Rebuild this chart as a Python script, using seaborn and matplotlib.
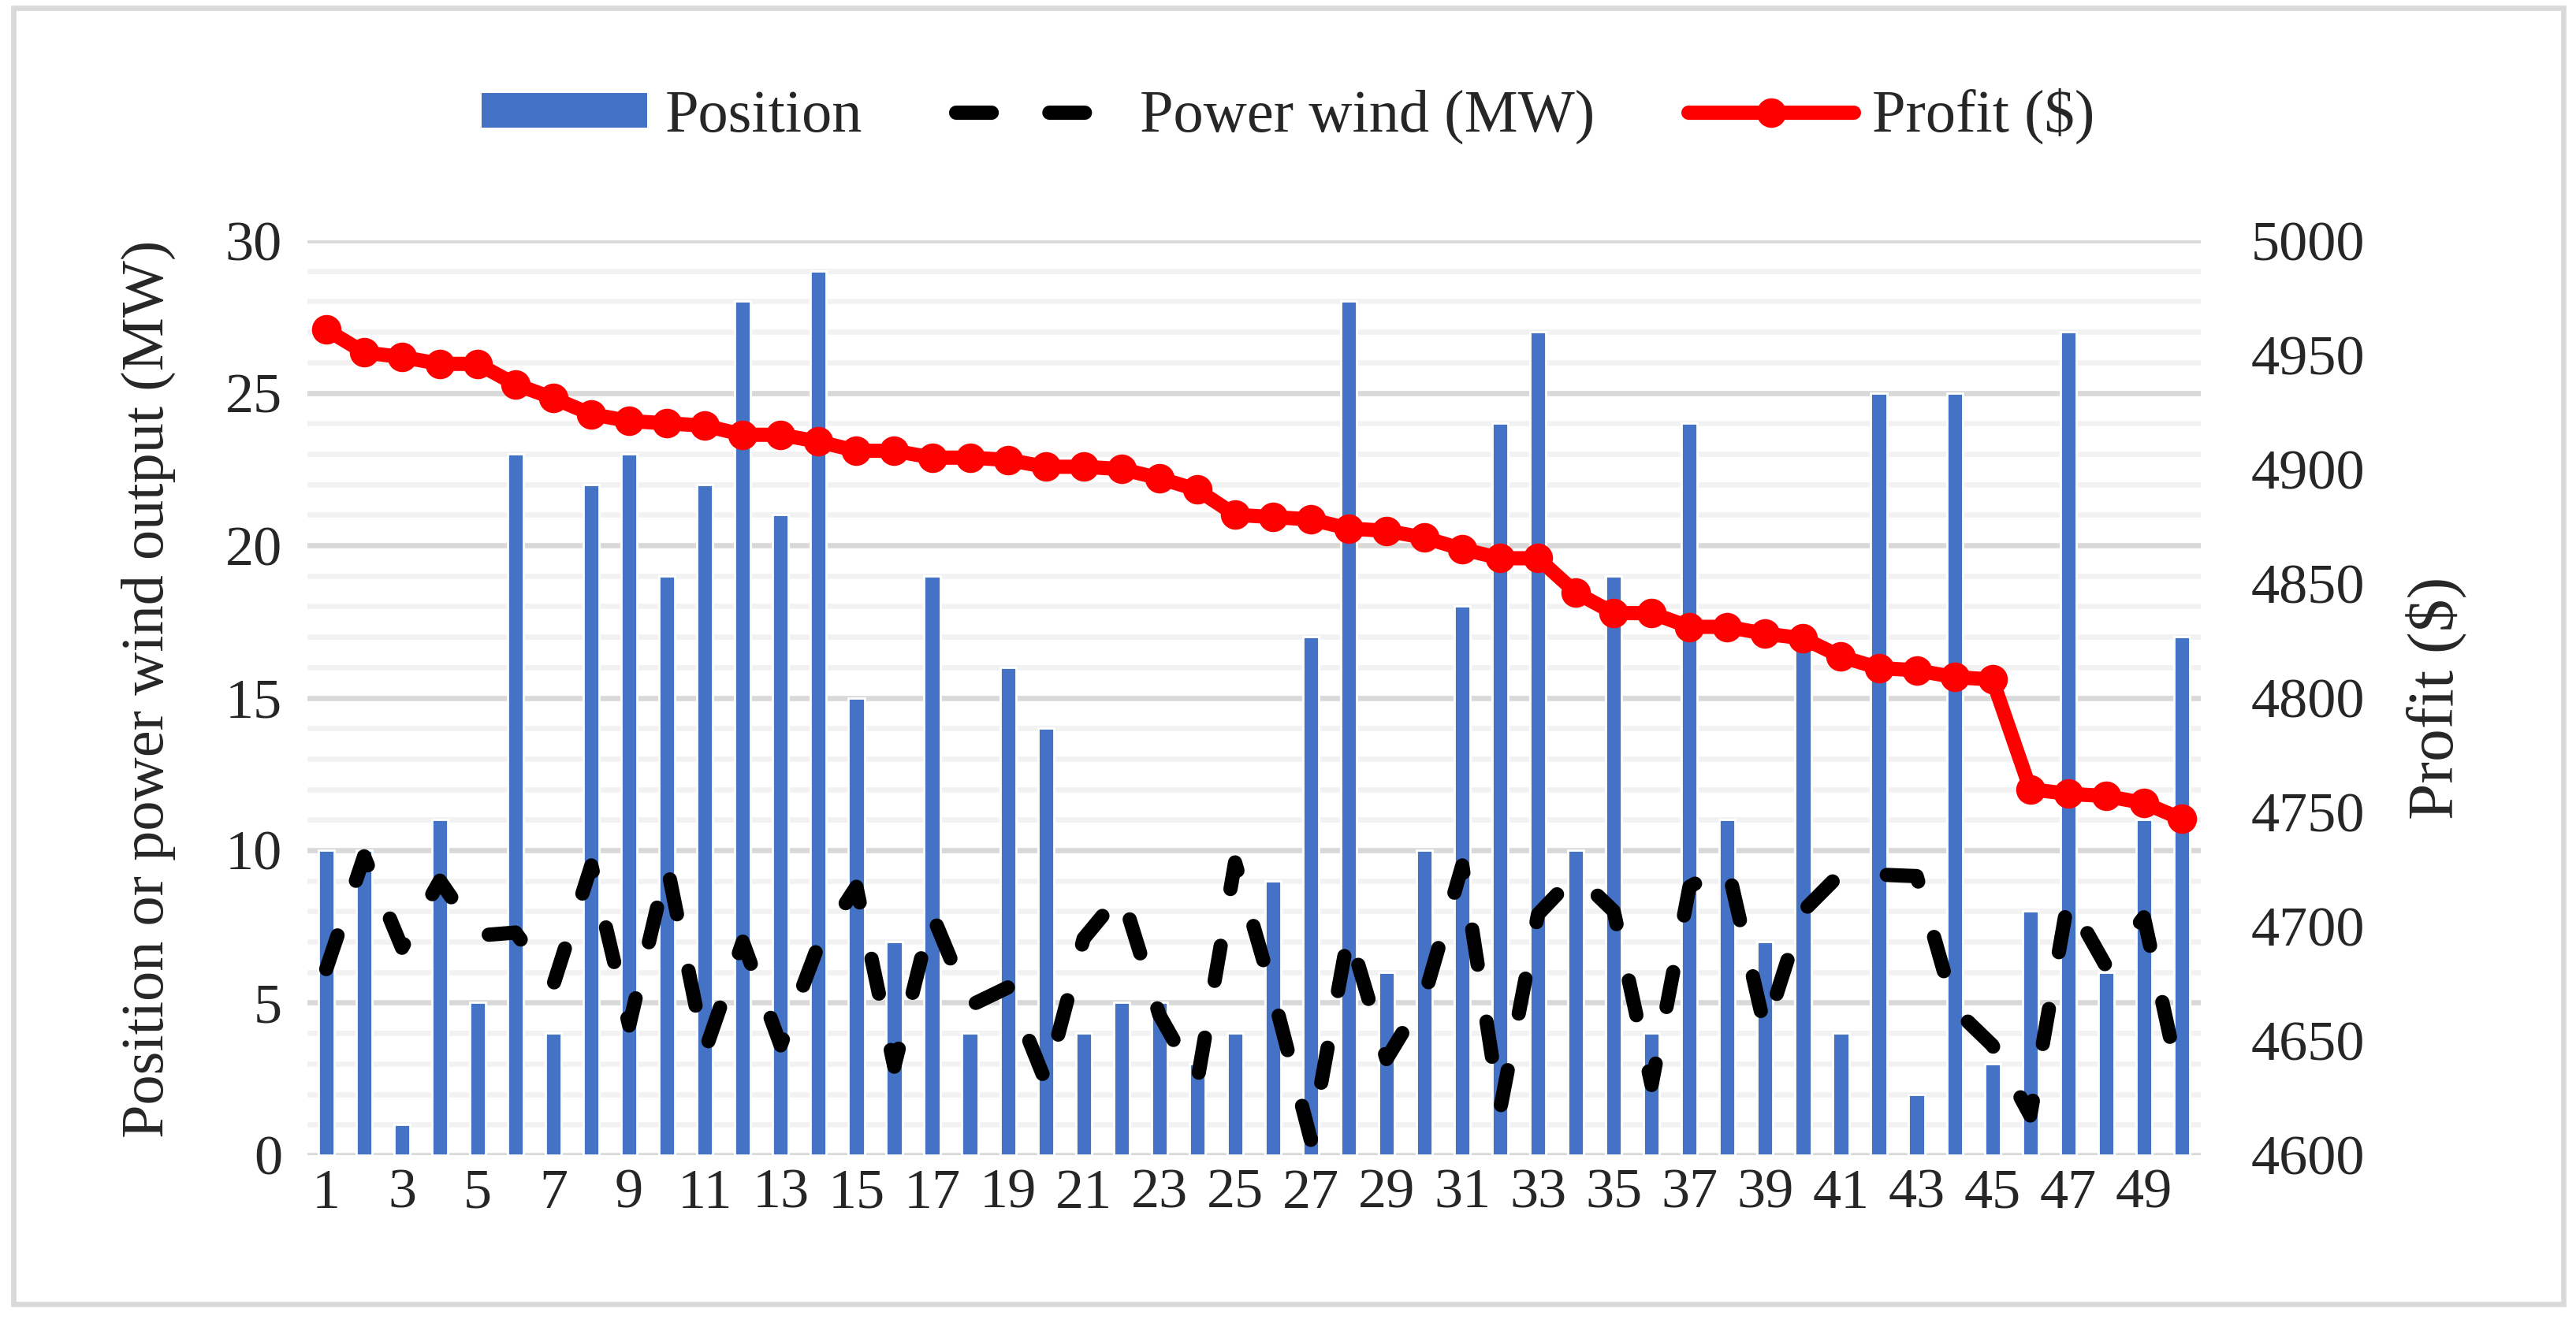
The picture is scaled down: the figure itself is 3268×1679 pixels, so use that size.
import matplotlib
matplotlib.use("Agg")
import matplotlib.pyplot as plt
import pandas as pd
import seaborn as sns
from matplotlib.lines import Line2D
from matplotlib.patches import Patch, Rectangle
from matplotlib.ticker import MultipleLocator

scenarios = list(range(1, 51))

position = [10, 10, 1, 11, 5, 23, 4, 22, 23, 19,
            22, 28, 21, 29, 15, 7, 19, 4, 16, 14,
            4, 5, 5, 3, 4, 9, 17, 28, 6, 10,
            18, 24, 27, 10, 19, 4, 24, 11, 7, 17,
            4, 25, 2, 25, 3, 8, 27, 6, 11, 17]

power_wind = [6.1, 9.8, 6.8, 9.0, 7.2, 7.3, 5.6, 9.5, 4.25, 9.5,
              3.4, 7.0, 3.6, 6.9, 8.8, 2.9, 7.9, 4.9, 5.5, 2.4,
              7.1, 8.6, 4.6, 2.4, 9.6, 5.3, 0.5, 7.3, 3.15, 5.2,
              9.5, 1.5, 7.9, 9.2, 8.0, 2.3, 8.8, 9.5, 4.1, 8.0,
              9.25, 9.2, 9.15, 4.8, 3.6, 1.3, 8.4, 6.2, 7.8, 2.1]

profit = [4961, 4951, 4949, 4946, 4946, 4937, 4931, 4924, 4921, 4920,
          4919, 4915, 4915, 4912, 4908, 4908, 4905, 4905, 4904, 4901,
          4901, 4900, 4896, 4891, 4880, 4879, 4878, 4874, 4873, 4870,
          4865, 4861, 4861, 4846, 4837, 4837, 4831, 4831, 4828, 4826,
          4818, 4813, 4812, 4809, 4808, 4760, 4758, 4757, 4754, 4747]

df = pd.DataFrame({
    "scenario": [str(s) for s in scenarios],
    "idx": range(len(scenarios)),
    "position": position,
    "wind": power_wind,
    "profit": profit,
})

sns.set_style("white")
plt.rcParams["font.family"] = ["Liberation Serif", "DejaVu Serif"]

BLUE = "#4472C4"
RED = "#FF0000"
wind_dash = (0, (2.5, 4.05))

fig = plt.figure(figsize=(16.34, 8.395), dpi=200)
ax = fig.add_axes([0.1193, 0.1269, 0.735, 0.6914])

ax.set_axisbelow(True)
ax.yaxis.set_major_locator(MultipleLocator(5))
ax.yaxis.set_minor_locator(MultipleLocator(1))
ax.grid(which="minor", axis="y", color="#F2F2F2", linewidth=2.4)
ax.grid(which="major", axis="y", color="#D9D9D9", linewidth=2.4)

sns.barplot(data=df, x="scenario", y="position", color=BLUE, saturation=1,
            width=0.42, ax=ax)
sns.lineplot(data=df, x="idx", y="wind", color="black", linewidth=6.5,
             linestyle=wind_dash, dash_capstyle="round", ax=ax)

ax.set_xlim(-0.5, 49.5)
ax.set_ylim(0, 30)
ax.set_xticks(range(0, 50, 2))
ax.set_xticklabels([str(s) for s in scenarios[::2]])
ax.tick_params(axis="x", length=0, labelsize=26, pad=6)
ax.tick_params(axis="y", which="both", length=0, labelsize=26, pad=11.5)
ax.set_xlabel("")
ax.set_ylabel("Position or power wind output (MW)", fontsize=27.5)
ax.yaxis.set_label_coords(-0.084, 0.51)
ax.yaxis.label.set_va("center")

ax2 = ax.twinx()
sns.lineplot(data=df, x="idx", y="profit", color=RED, linewidth=6.5,
             marker="o", markersize=13.5, markeredgewidth=0, ax=ax2)
ax2.set_ylim(4600, 5000)
ax2.yaxis.set_major_locator(MultipleLocator(50))
ax2.tick_params(axis="y", length=0, labelsize=26, pad=23)
ax2.set_ylabel("Profit ($)", fontsize=30)
ax2.yaxis.set_label_coords(1.125, 0.5)
ax2.yaxis.label.set_va("center")
ax2.set_xlim(-0.5, 49.5)
ax2.set_xlabel("")

for a in (ax, ax2):
    for s in a.spines.values():
        s.set_visible(False)

handles = [
    Patch(facecolor=BLUE, edgecolor="none", label="Position"),
    Line2D([], [], color="black", linewidth=6.5, linestyle=wind_dash,
           dash_capstyle="round", label="Power wind (MW)"),
    Line2D([], [], color=RED, linewidth=6.5, marker="o", markersize=13.5,
           markeredgewidth=0, label="Profit ($)"),
]
fig.legend(handles=handles, loc="center", bbox_to_anchor=(0.5, 0.912),
           ncol=3, frameon=False, fontsize=27.5, handlelength=2.75,
           handleheight=0.5, handletextpad=0.3, columnspacing=1.55)

fig.patches.append(Rectangle((0.0052, 0.0143), 0.990, 0.98,
                             transform=fig.transFigure, fill=False,
                             edgecolor="#D9D9D9", linewidth=2.4))

plt.savefig("out.png", dpi=200)
plt.close()
